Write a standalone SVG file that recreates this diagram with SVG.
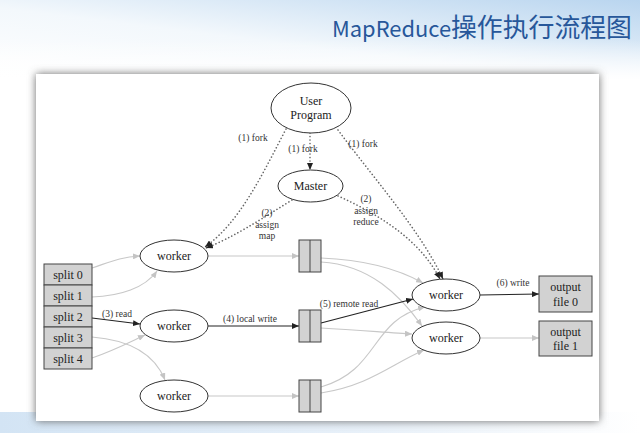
<svg xmlns="http://www.w3.org/2000/svg" width="640" height="433" viewBox="0 0 640 433">
<defs>
<linearGradient id="topGrad" x1="0" y1="1" x2="1" y2="0">
<stop offset="0" stop-color="#ffffff"/>
<stop offset="0.45" stop-color="#f3f8fc"/>
<stop offset="1" stop-color="#b9d5ef"/>
</linearGradient>
<linearGradient id="fadeDown" x1="0" y1="0" x2="0" y2="1">
<stop offset="0" stop-color="#ffffff" stop-opacity="0"/>
<stop offset="1" stop-color="#ffffff" stop-opacity="1"/>
</linearGradient>
<linearGradient id="botGrad" x1="0" y1="0" x2="1" y2="0">
<stop offset="0" stop-color="#d3e4f4"/>
<stop offset="0.6" stop-color="#e9f1f9"/>
<stop offset="1" stop-color="#ffffff"/>
</linearGradient>
<filter id="shadow" x="-5%" y="-5%" width="110%" height="110%">
<feGaussianBlur stdDeviation="4"/>
</filter>
<marker id="ab" markerUnits="userSpaceOnUse" markerWidth="8" markerHeight="6" refX="7" refY="3" orient="auto">
<path d="M0,0 L7,3 L0,6 z" fill="#222"/>
</marker>
<marker id="ag" markerUnits="userSpaceOnUse" markerWidth="8" markerHeight="6" refX="7" refY="3" orient="auto">
<path d="M0,0 L7,3 L0,6 z" fill="#c4c4c4"/>
</marker>
</defs>
<style>
.node ellipse{fill:#ffffff;stroke:#333333;stroke-width:1}
.box{fill:#d2d2d2;stroke:#444444;stroke-width:1}
.nl{font-family:"Liberation Serif","Times New Roman",serif;font-size:12px;fill:#222;text-anchor:middle}
.el{font-family:"Liberation Serif","Times New Roman",serif;font-size:9.5px;fill:#333;text-anchor:middle}
.g{fill:none;stroke:#c8c8c8;stroke-width:1.1;marker-end:url(#ag)}
.k{fill:none;stroke:#222;stroke-width:1.1;marker-end:url(#ab)}
.d{fill:none;stroke:#666;stroke-width:1.6;stroke-dasharray:0.1 3.4;stroke-linecap:round;marker-end:url(#ab)}
</style>
<rect x="0" y="0" width="640" height="433" fill="#ffffff"/>
<rect x="0" y="0" width="640" height="80" fill="url(#topGrad)"/>
<rect x="0" y="40" width="640" height="40" fill="url(#fadeDown)"/>
<rect x="0" y="412" width="640" height="21" fill="url(#botGrad)"/>
<text x="332" y="37" textLength="300" lengthAdjust="spacingAndGlyphs" font-family="'Noto Sans CJK SC','Noto Sans',sans-serif" fill="#27579a"><tspan font-size="22">MapReduce</tspan><tspan font-size="26">操作执行流程图</tspan></text>
<rect x="36" y="74" width="563" height="347" fill="#6a6a6a" filter="url(#shadow)"/>
<rect x="36" y="74" width="563" height="347" fill="#ffffff"/>

<g id="connectors">
<path class="g" d="M92,268 C110,262 120,257 140,256"/>
<path class="g" d="M92,297 C120,296 145,288 157,271"/>
<path class="k" d="M92,318 L140,324"/>
<path class="g" d="M92,337 C130,340 155,355 165,380"/>
<path class="g" d="M92,358 C115,350 130,342 145,335"/>
<path class="g" d="M208,256 L299,256"/>
<path class="k" d="M208,326 L299,326"/>
<path class="g" d="M208,396 L299,396"/>
<path class="g" d="M321,258 C370,260 400,270 423,283"/>
<path class="g" d="M321,262 C370,265 400,295 422,326"/>
<path class="k" d="M321,323 L413,299"/>
<path class="g" d="M321,328 C360,330 390,333 412,334"/>
<path class="g" d="M321,387 C380,370 370,320 425,307"/>
<path class="g" d="M321,393 C370,385 390,365 424,350"/>
<path class="k" d="M480,295 L539,294"/>
<path class="g" d="M480,338 L539,338"/>
<path class="d" d="M286,129 C262,175 240,222 205,247"/>
<path class="d" d="M310,133 L310,170"/>
<path class="d" d="M338,130 C375,180 420,230 443,279"/>
<path class="d" d="M292,200 C260,220 232,238 206,248"/>
<path class="d" d="M338,196 C380,215 420,240 440,279"/>
<text class="el" x="253" y="141">(1) fork</text>
<text class="el" x="303" y="152">(1) fork</text>
<text class="el" x="363" y="147">(1) fork</text>
<text class="el" x="267" y="216">(2)</text>
<text class="el" x="267" y="228">assign</text>
<text class="el" x="267" y="239">map</text>
<text class="el" x="366" y="202">(2)</text>
<text class="el" x="366" y="214">assign</text>
<text class="el" x="366" y="225">reduce</text>
<text class="el" x="117" y="317">(3) read</text>
<text class="el" x="250" y="322">(4) local write</text>
<text class="el" x="349" y="307">(5) remote read</text>
<text class="el" x="513" y="286">(6) write</text>
</g>

<g id="user-program" class="node"><ellipse cx="311" cy="108" rx="40" ry="25"/><text class="nl" x="311" y="105">User</text><text class="nl" x="311" y="119">Program</text></g>
<g id="master" class="node"><ellipse cx="310.5" cy="186" rx="32.5" ry="16"/><text class="nl" x="310.5" y="190">Master</text></g>
<g id="splits">
<rect class="box" x="44" y="264" width="48" height="21"/><text class="nl" x="68" y="279">split 0</text>
<rect class="box" x="44" y="285" width="48" height="21"/><text class="nl" x="68" y="300">split 1</text>
<rect class="box" x="44" y="306" width="48" height="21"/><text class="nl" x="68" y="321">split 2</text>
<rect class="box" x="44" y="327" width="48" height="21"/><text class="nl" x="68" y="342">split 3</text>
<rect class="box" x="44" y="348" width="48" height="21"/><text class="nl" x="68" y="363">split 4</text>
</g>
<g id="map-worker-1" class="node"><ellipse cx="174" cy="256" rx="34" ry="16"/><text class="nl" x="174" y="260">worker</text></g>
<g id="map-worker-2" class="node"><ellipse cx="174" cy="326" rx="34" ry="16"/><text class="nl" x="174" y="330">worker</text></g>
<g id="map-worker-3" class="node"><ellipse cx="174" cy="396" rx="34" ry="16"/><text class="nl" x="174" y="400">worker</text></g>
<g id="intermediate-1"><rect class="box" x="299" y="240" width="22" height="32"/><line x1="310" y1="240" x2="310" y2="272" stroke="#444"/></g>
<g id="intermediate-2"><rect class="box" x="299" y="310" width="22" height="32"/><line x1="310" y1="310" x2="310" y2="342" stroke="#444"/></g>
<g id="intermediate-3"><rect class="box" x="299" y="380" width="22" height="32"/><line x1="310" y1="380" x2="310" y2="412" stroke="#444"/></g>
<g id="reduce-worker-1" class="node"><ellipse cx="446" cy="295" rx="34" ry="16"/><text class="nl" x="446" y="299">worker</text></g>
<g id="reduce-worker-2" class="node"><ellipse cx="446" cy="338" rx="34" ry="16"/><text class="nl" x="446" y="342">worker</text></g>
<g id="output-file-0"><rect class="box" x="539" y="276" width="53" height="36"/><text class="nl" x="565.5" y="291">output</text><text class="nl" x="565.5" y="306">file 0</text></g>
<g id="output-file-1"><rect class="box" x="539" y="321" width="53" height="35"/><text class="nl" x="565.5" y="336">output</text><text class="nl" x="565.5" y="350">file 1</text></g>
</svg>
